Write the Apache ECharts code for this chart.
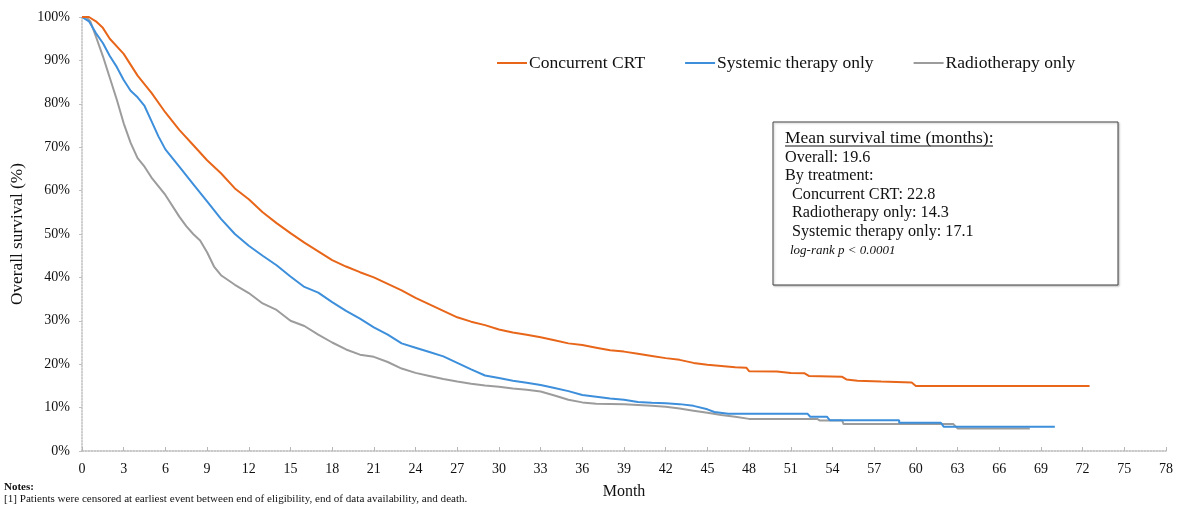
<!DOCTYPE html>
<html>
<head>
<meta charset="utf-8">
<script src="https://cdn.jsdelivr.net/npm/echarts@6/dist/echarts.min.js"></script>
<style>
  html, body { margin: 0; padding: 0; background: #fff; }
  #chart { width: 1178px; height: 506px; }
</style>
</head>
<body>
<div id="chart"></div>
<script>
const FONT = "'Liberation Serif', 'Times New Roman', serif";

// month ticks and labels
const monthTicks = [0, 3, 6, 9, 12, 15, 18, 21, 24, 27, 30, 33, 36, 39, 42, 45, 48, 51, 54, 57, 60, 63, 66, 69, 72, 75, 78];
const seriesNames = ['Concurrent CRT', 'Systemic therapy only', 'Radiotherapy only'];
const seriesColors = ['#E8661A', '#3D8FDB', '#9C9C9C'];

// [month, survival %]
const crtData = [
  [0, 100], [0.5, 100], [1, 99], [1.5, 97.5], [2, 95], [3, 91.5], [4, 86.5], [5, 82.5],
  [6, 78], [7, 74], [8, 70.5], [9, 67], [10, 64], [11, 60.5], [12, 58], [13, 55],
  [14, 52.5], [15, 50.2], [16, 48], [17, 46], [18, 44], [19, 42.5], [20, 41.2], [21, 40],
  [22, 38.5], [23, 37], [24, 35.3], [25, 33.8], [26, 32.3], [27, 30.8], [28, 29.8], [29, 29],
  [30, 28], [31, 27.3], [32, 26.8], [33, 26.2], [34, 25.5], [35, 24.8], [36, 24.4], [37, 23.8],
  [38, 23.2], [39, 22.9], [40, 22.4], [41, 21.9], [42, 21.4], [43, 21], [44, 20.3], [45, 19.9],
  [46, 19.6], [47, 19.3], [47.8, 19.2], [48, 18.4], [50, 18.3], [51, 18], [52, 17.9], [52.3, 17.3],
  [54.7, 17.1], [55, 16.5], [55.8, 16.2], [57.5, 16], [59.7, 15.8], [60, 15], [72.5, 15]
];
const systemicData = [
  [0, 100], [0.5, 99], [1, 96.3], [1.5, 94], [2, 91], [2.5, 88.5], [3, 85.5], [3.5, 83],
  [4, 81.5], [4.5, 79.5], [5, 76], [5.5, 72.5], [6, 69.5], [7, 65.5], [8, 61.5], [9, 57.5],
  [10, 53.5], [11, 50], [12, 47.3], [13, 45], [14, 42.8], [15, 40.2], [16, 37.8], [17, 36.5],
  [18, 34.3], [19, 32.3], [20, 30.5], [21, 28.5], [22, 26.8], [23, 24.8], [24, 23.8], [25, 22.8],
  [26, 21.8], [27, 20.3], [28, 18.8], [29, 17.4], [30, 16.8], [31, 16.2], [32, 15.7], [33, 15.2],
  [34, 14.5], [35, 13.8], [36, 12.9], [37, 12.5], [38, 12.1], [39, 11.8], [40, 11.3], [41, 11.1],
  [42, 11], [43, 10.8], [44, 10.4], [45, 9.6], [45.5, 9], [46.5, 8.6], [52.2, 8.6], [52.4, 7.9],
  [53.6, 7.9], [53.8, 7.1], [58.8, 7.1], [58.8, 6.5], [61.8, 6.5], [62, 5.6], [70, 5.6]
];
const radioData = [
  [0, 100], [0.3, 100], [0.6, 99], [1, 95.5], [1.5, 91], [2, 86], [2.5, 81], [3, 75.5],
  [3.5, 71], [4, 67.5], [4.5, 65.5], [5, 63], [6, 59], [7, 54], [7.5, 51.8], [8, 50],
  [8.5, 48.5], [9, 45.8], [9.5, 42.5], [10, 40.5], [11, 38.3], [12, 36.4], [13, 34], [14, 32.5],
  [15, 30], [16, 28.8], [17, 26.8], [18, 25], [19, 23.4], [20, 22.2], [21, 21.7], [22, 20.5],
  [23, 19], [24, 18], [25, 17.3], [26, 16.6], [27, 16], [28, 15.5], [29, 15.1], [30, 14.8],
  [31, 14.4], [32, 14.1], [33, 13.7], [34, 12.8], [35, 11.8], [36, 11.2], [37, 10.9], [39, 10.8],
  [40, 10.6], [41, 10.4], [42, 10.2], [43, 9.8], [44, 9.3], [45, 8.8], [46, 8.3], [47, 7.9],
  [48, 7.4], [52.9, 7.4], [53.1, 7], [54.7, 7], [54.8, 6.2], [62.7, 6.2], [63, 5.2], [68.2, 5.2]
];

const boxLines = [
  'Overall: 19.6',
  'By treatment:',
  'Concurrent CRT: 22.8',
  'Radiotherapy only: 14.3',
  'Systemic therapy only: 17.1'
];

const chart = echarts.init(document.getElementById('chart'));

const lineSeries = [crtData, systemicData, radioData].map((d, i) => ({
  name: seriesNames[i],
  type: 'line',
  data: d,
  showSymbol: false,
  symbol: 'none',
  color: seriesColors[i],
  lineStyle: { width: 2, color: seriesColors[i] },
  z: 3 - i
}));

// text inside the summary box
const textItems = boxLines.map((t, i) => ({
  type: 'text',
  left: i >= 2 ? 792 : 785,
  top: 149.5 + i * 18.5,
  z: 11,
  style: { text: t, font: '16.2px ' + FONT, fill: '#111' }
}));

chart.setOption({
  animation: false,
  textStyle: { fontFamily: FONT },
  grid: { left: 82, right: 12, top: 17, bottom: 55 },
  legend: {
    left: 492,
    top: 49,
    icon: 'rect',
    itemWidth: 30,
    itemHeight: 2,
    itemGap: 40,
    textStyle: { fontFamily: FONT, fontSize: 17.5, color: '#111', padding: [0, 0, 0, -3] },
    data: seriesNames
  },
  xAxis: {
    type: 'value',
    min: 0,
    max: 78,
    interval: 3,
    name: 'Month',
    nameLocation: 'middle',
    nameGap: 33,
    nameTextStyle: { fontFamily: FONT, fontSize: 16, color: '#111' },
    axisLine: { show: true, lineStyle: { color: '#b5b5b5', type: 'dotted', width: 1.5 } },
    axisTick: { show: true, inside: true, length: 4, lineStyle: { color: '#b5b5b5' } },
    axisLabel: {
      fontFamily: FONT, fontSize: 14, color: '#111', margin: 11,
      formatter: v => monthTicks.includes(v) ? String(v) : ''
    },
    splitLine: { show: false }
  },
  yAxis: {
    type: 'value',
    min: 0,
    max: 100,
    interval: 10,
    name: 'Overall survival (%)',
    nameLocation: 'middle',
    nameGap: 48,
    nameTextStyle: { fontFamily: FONT, fontSize: 17.3, color: '#111' },
    axisLine: { show: true, lineStyle: { color: '#c0c0c0', type: 'dotted', width: 1.5 } },
    axisTick: { show: true, length: 3, lineStyle: { color: '#c0c0c0' } },
    axisLabel: { fontFamily: FONT, fontSize: 14, color: '#111', margin: 12, formatter: '{value}%' },
    splitLine: { show: false }
  },
  graphic: [
    {
      type: 'rect',
      shape: { x: 773, y: 122, width: 345, height: 163 },
      style: { fill: '#fff', stroke: '#444', lineWidth: 1, shadowColor: 'rgba(0,0,0,0.25)', shadowBlur: 2, shadowOffsetX: 1, shadowOffsetY: 1 },
      z: 10
    },
    {
      type: 'text',
      left: 785,
      top: 129,
      z: 11,
      style: { text: 'Mean survival time (months):', font: '17.5px ' + FONT, fill: '#111' }
    },
    {
      type: 'line',
      shape: { x1: 785, y1: 146, x2: 993, y2: 146 },
      style: { stroke: '#111', lineWidth: 1 },
      z: 11
    },
    ...textItems,
    {
      type: 'text',
      left: 790,
      top: 244.5,
      z: 11,
      style: { text: 'log-rank p < 0.0001', font: 'italic 13px ' + FONT, fill: '#111' }
    },
    {
      type: 'text',
      left: 4,
      top: 482,
      style: { text: 'Notes:', font: 'bold 11px ' + FONT, fill: '#111' }
    },
    {
      type: 'text',
      left: 4,
      top: 493.5,
      style: { text: '[1] Patients were censored at earliest event between end of eligibility, end of data availability, and death.', font: '11.1px ' + FONT, fill: '#111' }
    }
  ],
  series: lineSeries
});
</script>
</body>
</html>
